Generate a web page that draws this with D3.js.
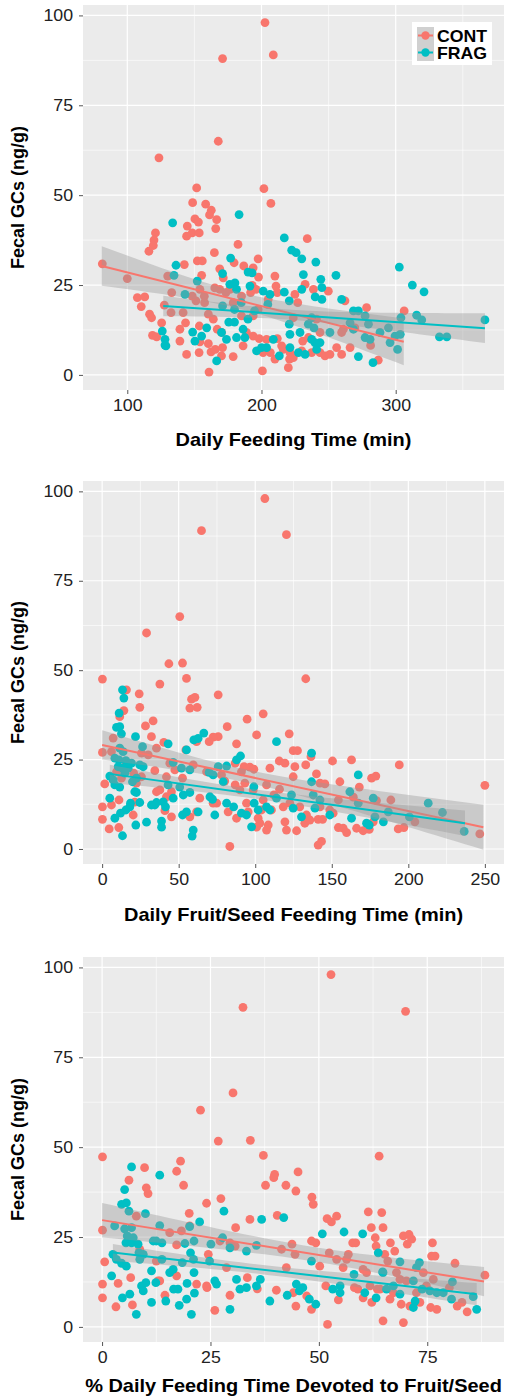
<!DOCTYPE html>
<html>
<head>
<meta charset="utf-8">
<script src="https://cdn.jsdelivr.net/npm/d3@7"></script>
<style>
  body { margin: 0; background: #fff; }
  svg { display: block; }
</style>
</head>
<body>
<svg id="chart" width="508" height="1399"></svg>
<script>
// groups
const groups = ["CONT", "FRAG"];
const groupColors = ["#F8766D", "#00BFC4"];
const yTicks = [0, 25, 50, 75, 100];

// panel 1: daily feeding time (min) vs fecal GCs
const feedCont = [[202.6,98],[208.8,89],[171,88],[167.8,65],[123.6,60.4],[151.7,52],[201.8,51.8],[207,47.7],[148.7,47.9],[158.4,47.5],[162.6,45.8],[166.6,43.2],[150.4,43.4],[153,42.5],[144.7,41.4],[161.3,44.5],[121,39.5],[148.4,39.5],[153.6,39.5],[144.2,38.6],[165.9,40.7],[119.9,37.5],[119.4,36],[116.1,34.4],[234.1,37.9],[182.5,36.3],[81.4,30.9],[100,26.8],[107.5,21.5],[113,21.7],[110.4,19],[116.6,16.9],[118.1,15.9],[118.8,11],[121.9,10.6],[125.6,14.5],[127.6,19.4],[130.1,27.5],[133.1,22.9],[132.6,17.3],[142.5,30.7],[139.2,12.7],[139.2,9.4],[144.2,5.7],[141.6,17.3],[143.4,14.5],[152.2,31.7],[155.9,31.7],[155.4,27.7],[154.1,23.8],[157.4,21.9],[148.4,21.9],[151.2,20.6],[157.6,20.1],[160.4,16.9],[164.1,15.5],[153.7,13.6],[154.1,9.2],[160.4,8.7],[162.4,6.4],[153.5,6.2],[160.9,0.8],[165.6,7.1],[164.9,34],[168.9,29.5],[171.5,27],[165.2,24.2],[168.9,23.8],[173.5,22.9],[167,12.7],[170.2,11.8],[171,7.6],[170.2,5.3],[178.9,5.1],[176.5,23.8],[179.6,31.2],[178.9,20.1],[185.1,21.9],[185.1,16.4],[186.3,8.1],[188.8,11.8],[186.8,30.3],[193.8,29.8],[197.5,32.3],[197.8,27.2],[193.1,24.9],[191.9,22.9],[195.9,23.8],[197.5,18.2],[193.8,16.4],[193.8,10.8],[198.3,10.1],[201.2,6.2],[200.7,1.1],[206.6,6.2],[203.8,9.9],[205,21],[210,27.5],[210.8,24.7],[211.8,22.9],[210,4.4],[216.2,7.1],[215,8.1],[211.8,10.1],[220,2],[220.9,4.4],[221.2,6.2],[223.7,4.8],[224.9,22.4],[223.7,15.9],[227,20.1],[232.5,25.2],[230.7,9.4],[230,6.7],[237.4,6.2],[238.7,23.8],[235,10.4],[241,15.5],[243.6,11.8],[243.6,6.2],[247.3,5.3],[249.8,23.3],[251,5.7],[256,7.6],[259.7,5.7],[262.2,20.6],[261,12.7],[266,7.6],[269.6,13.1],[278.3,18.7],[281.3,8.2],[287,4.1],[306.3,17.8],[259.7,11.8]];
const feedFrag = [[133.8,42.3],[183.3,44.6],[217,38.1],[222.5,34.7],[225.8,34],[230,32.3],[240.5,31.4],[177,32.5],[302.7,30],[312.4,25],[321.1,23.1],[255.5,27.7],[231.2,27.9],[244.2,26.6],[136.3,30.5],[134.8,27.7],[152.1,26.1],[171,28.2],[190,28.6],[193,28.4],[180.2,25.6],[176.4,25.2],[181.4,23.8],[191.4,24.7],[201.3,23.3],[206.3,22.4],[217,23],[230,23.8],[245,24.3],[240,21.7],[245,21],[220.7,20.6],[143,22.4],[171,19.2],[184.9,20.1],[179.9,18.2],[189.9,15.5],[179.9,14.7],[175.6,14.7],[194.8,17.8],[204.7,19.6],[220.7,14.1],[221.2,11.3],[228.7,11.8],[234.9,14.1],[237.4,15.9],[239.1,13.1],[239.8,9],[243.6,9],[241.1,7.1],[251,11.8],[259.7,21],[268.5,17.8],[272.2,17.8],[266,14.5],[268.5,12.7],[277.2,16.4],[279.7,14.1],[277.2,10.4],[280.9,9.9],[288.3,11.8],[294.6,13.1],[295.8,9],[299.5,10.8],[303.4,11.3],[301.4,7.1],[303.9,15.9],[283.1,3.4],[272.2,5.1],[315.6,16.6],[319.4,15.3],[332.6,10.6],[338.1,10.6],[366.5,15.3],[126.1,12.2],[128.1,9.9],[128.1,8.3],[148.7,11.9],[150.4,9.4],[155.4,10.8],[159.2,13.1],[166.6,3.9],[170.2,11.8],[173.9,9.9],[186.3,12.7],[187.6,10.4],[181.4,10.4],[196.3,6.7],[200,7.6],[203.8,7.6],[208.8,9.9],[213.3,5.3],[221.2,7.6],[227.5,6.2],[232.5,5.7],[237.4,9.9],[128.8,8.1]];

// panel 2: daily fruit/seed feeding time (min)
const fruitCont = [[106.3,98],[64.9,89],[120.4,87.9],[50.7,65],[29,60.4],[43.6,51.8],[52.5,52],[0.2,47.5],[133,47.6],[55.1,47.7],[37.7,46.1],[75.8,43.1],[24.2,43.4],[15.9,44.5],[58.4,41.9],[60.6,42.4],[62.1,39.6],[57.3,39.4],[24.6,39.6],[14.2,38.7],[11.5,37],[33.3,35.8],[28.3,34.4],[94.7,36.3],[105.2,37.8],[81.7,34.2],[100.9,31.9],[122.2,32.2],[75.8,31.4],[72.5,31.3],[69.9,30],[32.2,31.4],[7.2,31],[61.7,30],[54.7,27.7],[35.5,28.2],[40.3,29.8],[87.8,29.4],[124.8,27.5],[127.6,27.5],[0.2,27],[6.1,27.2],[25.7,26.8],[30.1,26.3],[44.2,24],[47.5,22.1],[42,20.2],[34.4,21.9],[15.5,23.5],[20.6,21.2],[25.7,20.2],[12.6,19.8],[9.4,21.6],[1.7,18.2],[59.5,23.5],[68.2,21.6],[78,20.7],[80.1,19],[86.9,24],[92.7,23],[96.5,22.9],[99.1,22.3],[91,21.6],[93.2,18.4],[86.9,17.9],[107.4,17.9],[109.6,22.6],[115.7,24.6],[119.4,24],[125.9,23],[124.8,20.2],[133,23.5],[136.4,25.8],[140,21],[142.3,18.4],[145.5,18.2],[150.5,24.6],[155.3,18.8],[162.9,24.9],[168,17.3],[176,19.8],[178.8,20.4],[194.1,23.5],[188.6,13.7],[179.2,13.5],[164.1,14.5],[154.3,13.7],[148.7,10.9],[142.3,11.8],[133.5,9.5],[129.1,11.8],[122.6,12.8],[118.3,11.8],[112.2,15.1],[115.9,16.7],[110.6,10.9],[104.1,10.9],[101.9,8.6],[103,7.2],[108.5,6.7],[107.4,5.3],[100.9,6.1],[95.4,10.4],[94.3,12.8],[87.8,8.6],[82.3,10.4],[83.4,0.7],[119.4,7.6],[120.4,5.3],[127,5.1],[132.4,7.2],[135.7,8.1],[141.1,8.3],[144,8.3],[141.1,1.1],[143.3,2.1],[154.3,6],[157.5,5.8],[159.7,4.6],[166.2,5.8],[170.5,5.1],[174.5,5.5],[177.1,7.6],[193.4,5.6],[197.1,6],[204.3,7.6],[246.7,4.2],[250,17.8],[150.9,10],[0.2,11.8],[0.2,8.3],[4.6,5.6],[11,13.7],[6.1,12.3],[10.9,6],[20.3,9.5],[21.3,13.1],[45.3,9],[41,10.7],[61.7,10.4],[63.8,14.2],[57.3,9],[42,14.6],[35.5,16],[37.7,16.5],[45.3,16],[52.5,19.8],[74.8,12.8],[72.5,12.8],[22.4,18.4],[98.7,16.5],[105.2,13.7],[90,16.5]];
const fruitFrag = [[13.3,44.5],[14.2,42.2],[11.1,38],[11.5,34.2],[9.4,34],[12.6,32.2],[21.8,31.4],[66.4,32.4],[59.9,30.5],[43.1,29.4],[26.4,28.6],[11.5,28.2],[13.7,27.2],[55.1,27.7],[113.9,30],[136.8,26.8],[87.8,24.9],[90.4,26],[8.3,25.4],[11,24.9],[15.5,24.7],[19.2,24],[24.6,23.5],[26.8,23],[10.5,23],[13.3,22.6],[14.8,21.2],[17,22.6],[46.4,24.2],[51.8,22.6],[57.3,22.1],[75.8,23],[69.9,21.4],[72.5,20.7],[79.1,18.8],[81.3,23.2],[136.8,18.8],[167.3,20.7],[5,20.4],[7.2,19.3],[8.3,17.9],[11.5,17.3],[19.8,18.8],[22.4,19.8],[43.1,17.9],[50.7,17.3],[57.3,15.8],[53,15.1],[46.4,14.2],[35.5,13],[39.9,13.2],[41.4,11.8],[32.2,12.3],[34.4,12.3],[22.4,15.8],[24.6,13],[70.4,14.6],[72.1,13.9],[81.3,12.8],[85.9,11.8],[99.1,17.4],[99.3,12.8],[101.9,10.9],[107.4,11.8],[109.6,10.9],[113.9,14.2],[123.7,15.1],[124.8,11.4],[130.2,9],[137.9,15.1],[142.3,13.7],[139,11.4],[148.7,9.5],[161.8,16],[162.9,8.6],[167.3,12.8],[172.7,7.2],[174.5,6.7],[177.1,14.2],[178.2,9],[183.7,7.6],[186.9,10.4],[200.7,9],[213,12.8],[222.3,10.2],[236.5,4.9],[97.6,6.2],[91,10],[94.3,9.5],[59.5,5.3],[58.8,3.6],[52.5,9.5],[55.1,10.4],[62.7,10.4],[73.6,9.5],[8.3,8.6],[12,10],[15.5,10.9],[18.1,11.8],[13.3,3.7],[22,6.7],[29,7.5],[38.8,7.8],[38.8,6.1],[5,14.2],[18.5,12.8],[21.3,16],[62.7,30.9]];

// panel 3: % daily feeding time devoted to fruit/seed
const pctCont = [[52.8,98],[32.5,88.9],[70,87.8],[30.2,65.1],[22.7,60.3],[26.8,51.7],[34.2,51.9],[0.1,47.3],[37.2,47.7],[63.9,47.5],[18.1,46.1],[9.8,44.3],[17.2,43.3],[45.2,43.1],[39.8,42.4],[39.6,41.5],[6.2,40.8],[10.2,38.7],[10.6,37.1],[18.8,39.4],[37.7,39.4],[42.4,39.4],[44.7,37.8],[27.4,35.7],[48.4,36.1],[48.7,34.1],[24.1,34.4],[20.1,31.6],[40.4,31],[7.9,30.8],[34.1,29.9],[51.9,30.1],[54.1,30.8],[52.9,29.2],[61.4,32],[64.5,31.8],[0.1,26.9],[20.2,28.1],[30.8,27.6],[62.1,27.6],[64.8,27.6],[27.2,23.9],[15.6,26.2],[18.3,26.7],[29.5,23.4],[30.7,22.5],[43.8,23],[44.5,20.2],[48.3,23.9],[49.3,23.4],[52.4,20.6],[57.8,23.4],[58.5,23.4],[63,24.8],[63.2,22.5],[66.5,23.4],[67.5,21.1],[69.5,25.3],[70.8,25.7],[70.4,23],[71.4,24.4],[76.2,23.4],[76,19.7],[76.8,19.7],[81.4,17.7],[88.3,14.4],[65.2,20.2],[65.9,18.3],[0.6,18.1],[17.2,22.8],[56.4,18.8],[55.6,16.5],[41.4,21.6],[42.5,16.5],[33.5,13.7],[35.8,10.6],[40.2,10.2],[28.7,16.5],[24.5,20.2],[24.2,10.9],[29.5,8.8],[26,4.6],[44.1,9.5],[44.7,5.8],[47.2,8.6],[48.3,4.9],[51.6,11.4],[52,0.7],[54.5,7.5],[58.2,10.9],[59,10.5],[60.2,8.1],[62.2,6.8],[61.8,11.4],[64.1,10.5],[64.8,1.7],[66.4,7.7],[67.2,9.5],[67.9,15.1],[68.7,13.2],[69,6.3],[69.5,1.2],[70.2,12.8],[71,5.8],[73.3,6.8],[74.1,15.1],[74.8,11.4],[75.8,5.4],[76.4,13.2],[77.2,4.9],[81.9,5.8],[83,6.8],[84.2,4.2],[80.1,10.9],[72.5,9.5],[0.1,11.9],[0.1,8.1],[3.7,12.1],[3.2,5.6],[6.6,13.7],[7,6.1],[12.5,18.3],[12.9,12.8],[14.5,8.8],[17.2,14.2],[21.8,11.9],[24.1,11.4],[8.7,21.6],[13.3,12.8],[56.8,20.2],[60.2,16],[61,15.1],[63.5,10.5],[54.1,18.8],[50.2,16.9]];
const pctFrag = [[6.8,44.5],[13.3,42.2],[5.2,38.2],[4.5,34.1],[5.6,34.5],[6.2,32.2],[10,31.5],[28.1,32.2],[36.8,29.9],[41.9,30.4],[22.5,29.2],[2.9,28.1],[5.2,27.3],[6.8,27.6],[13.3,28.2],[20.2,27.9],[50.8,25.9],[55.8,26.4],[60.1,25.9],[5.8,25.3],[7.2,24.8],[5.5,23.4],[6.8,23.4],[8.3,23],[11.8,23.9],[12.5,23.9],[13.8,23.4],[19.1,23.2],[21.2,23.9],[25.1,23],[27.8,24.8],[29.5,22],[33.3,21.1],[35.6,22.7],[63.7,20.6],[2.5,20.2],[3.3,18.8],[4.5,17.7],[5.6,16.9],[8.5,20.6],[9.5,20.2],[8.7,18.8],[13.8,18.8],[18.5,17.9],[20.4,20.6],[21.1,18.8],[24.8,18.3],[48.3,18.3],[73.2,17.9],[68.7,18.1],[72.5,16.5],[64.7,15.3],[2.2,14.2],[11.4,15.6],[14.7,7.2],[15.6,15.1],[16.4,16],[17.5,10.5],[16.5,10.5],[19.6,12.1],[21.2,15.1],[21.3,9.4],[17.8,6],[19.5,7.7],[20.6,3.5],[11.4,6.8],[6.4,9.1],[4.7,8.1],[7.9,3.5],[9.1,11.4],[9.5,10],[10.1,12.3],[12.4,12.3],[26,12.8],[26.4,11.9],[31,13.2],[31.8,10.5],[29.5,4.9],[33.3,10.9],[35.6,11.4],[36.5,13.2],[38.7,7.2],[42.7,8.8],[44.8,11.9],[45.5,10],[46.3,10.9],[47.8,7.7],[49.3,6.3],[53.2,10.5],[54.9,11.4],[54.9,9.5],[58.1,14.6],[60.6,9.5],[63.2,8.1],[64.8,15.1],[65.6,10.5],[67.2,11.4],[68.7,9.1],[71.8,5.4],[72.2,7.2],[73.8,10.5],[75.6,10],[77.2,9.5],[78.7,9.5],[80.6,7.7],[80.8,12.5],[85.6,8.4],[86.4,4.9],[71.8,12.8]];

// linear fits: [xStart, xEnd], [yStart, yEnd], CI half-width [start, narrowest, end]
const feedFitX = [[81, 306], [126.8, 366.5]];
const feedFitY = [[30.3, 9.2], [19.2, 13]];
const feedFitSE = [[5.5, 2.3, 6.5], [2.85, 1.4, 4.15]];
const fruitFitX = [[0, 249], [5, 237]];
const fruitFitY = [[29.1, 6.1], [21, 7.2]];
const fruitFitSE = [[4.1, 1.8, 6.3], [2.55, 1.3, 3.55]];
const pctFitX = [[0, 88.1], [2.5, 86.4]];
const pctFitY = [[29.7, 12.6], [20.7, 9.1]];
const pctFitSE = [[4.8, 2, 4.05], [2.35, 1.3, 3.1]];

const panels = [
  { top: 5, bottom: 390, titleDy: 56, xDomain: [67, 380.7], xTicks: [100, 200, 300], xMinor: [150, 250, 350],
    title: "Daily Feeding Time (min)", series: [feedCont, feedFrag],
    fitX: feedFitX, fitY: feedFitY, fitSE: feedFitSE, legend: true },
  { top: 481, bottom: 864, titleDy: 57, xDomain: [-12.5, 262.5], xTicks: [0, 50, 100, 150, 200, 250], xMinor: [25, 75, 125, 175, 225],
    title: "Daily Fruit/Seed Feeding Time (min)", series: [fruitCont, fruitFrag],
    fitX: fruitFitX, fitY: fruitFitY, fitSE: fruitFitSE },
  { top: 957, bottom: 1342, titleDy: 50, xDomain: [-4.4, 92.7], xTicks: [0, 25, 50, 75], xMinor: [12.5, 37.5, 62.5, 87.5],
    title: "% Daily Feeding Time Devoted to Fruit/Seed", series: [pctCont, pctFrag],
    fitX: pctFitX, fitY: pctFitY, fitSE: pctFitSE }
];

const left = 83, right = 504;
const stretch = 1.11; // source figure is slightly wide
const font = '"Liberation Sans", Arial, sans-serif';
const svg = d3.select("#chart");

panels.forEach((p, pi) => {
  const x = d3.scaleLinear().domain(p.xDomain).range([left, right]);
  const y = d3.scaleLinear().domain([-4.2, 102.9]).range([p.bottom, p.top]);
  const g = svg.append("g");
  const clipId = "clip" + pi;
  g.append("clipPath").attr("id", clipId).append("rect")
    .attr("x", left).attr("y", p.top).attr("width", right - left).attr("height", p.bottom - p.top);

  g.append("rect").attr("x", left).attr("y", p.top)
    .attr("width", right - left).attr("height", p.bottom - p.top).attr("fill", "#EBEBEB");

  // grid
  const grid = g.append("g").attr("stroke", "#fff");
  [12.5, 37.5, 62.5, 87.5].forEach(v => grid.append("line")
    .attr("x1", left).attr("x2", right).attr("y1", y(v)).attr("y2", y(v)).attr("stroke-width", 0.6));
  p.xMinor.forEach(v => grid.append("line")
    .attr("x1", x(v)).attr("x2", x(v)).attr("y1", p.top).attr("y2", p.bottom).attr("stroke-width", 0.6));
  yTicks.forEach(v => grid.append("line")
    .attr("x1", left).attr("x2", right).attr("y1", y(v)).attr("y2", y(v)).attr("stroke-width", 1.2));
  p.xTicks.forEach(v => grid.append("line")
    .attr("x1", x(v)).attr("x2", x(v)).attr("y1", p.top).attr("y2", p.bottom).attr("stroke-width", 1.2));

  // axes
  const yAxis = g.append("g").attr("transform", `translate(${left},0)`)
    .call(d3.axisLeft(y).tickValues(yTicks).tickSize(4).tickPadding(5));
  const xAxis = g.append("g").attr("transform", `translate(0,${p.bottom})`)
    .call(d3.axisBottom(x).tickValues(p.xTicks).tickSize(4).tickPadding(6));
  [yAxis, xAxis].forEach(a => {
    a.select(".domain").remove();
    a.selectAll("line").attr("stroke", "#555");
    a.selectAll("text").attr("fill", "#222").style("font-family", font).style("font-size", "16px")
      .attr("transform", `scale(${stretch},1)`);
  });

  // points
  const pts = g.append("g").attr("clip-path", `url(#${clipId})`);
  p.series.forEach((s, si) => {
    pts.selectAll(null).data(s).join("circle")
      .attr("cx", d => x(d[0])).attr("cy", d => y(d[1])).attr("r", 4.4)
      .attr("fill", groupColors[si]);
  });

  // smooth fits with confidence band
  p.series.forEach((s, si) => {
    const [x0, x1] = p.fitX[si], [y0, y1] = p.fitY[si], [hs, hm, he] = p.fitSE[si];
    const k = (Math.sqrt(hs * hs - hm * hm) + Math.sqrt(he * he - hm * hm)) / (x1 - x0);
    const xc = x0 + Math.sqrt(hs * hs - hm * hm) / k;
    const xs = d3.range(41).map(i => x0 + (x1 - x0) * i / 40);
    const band = xs.map(v => {
      const m = y0 + (y1 - y0) * (v - x0) / (x1 - x0);
      const h = Math.sqrt(hm * hm + k * k * (v - xc) * (v - xc));
      return [v, m - h, m + h];
    });
    g.append("path").datum(band)
      .attr("d", d3.area().x(d => x(d[0])).y0(d => y(d[1])).y1(d => y(d[2])))
      .attr("fill", "#999").attr("fill-opacity", 0.4).attr("clip-path", `url(#${clipId})`);
    g.append("line")
      .attr("x1", x(x0)).attr("y1", y(y0)).attr("x2", x(x1)).attr("y2", y(y1))
      .attr("stroke", groupColors[si]).attr("stroke-width", 2);
  });

  // axis titles
  g.append("text")
    .attr("transform", `translate(24,${(p.top + p.bottom) / 2}) rotate(-90)`)
    .attr("text-anchor", "middle")
    .style("font-family", font).style("font-size", "18px").style("font-weight", "bold")
    .text("Fecal GCs (ng/g)");
  g.append("text")
    .attr("transform", `translate(${(left + right) / 2},${p.bottom + p.titleDy}) scale(${stretch},1)`)
    .attr("text-anchor", "middle")
    .style("font-family", font).style("font-size", "18px").style("font-weight", "bold")
    .text(p.title);

  if (p.legend) {
    const lg = g.append("g").attr("transform", "translate(412,22)");
    lg.append("rect").attr("width", 80).attr("height", 43).attr("fill", "#fff");
    groups.forEach((name, i) => {
      const ky = 5 + i * 17;
      lg.append("rect").attr("x", 5).attr("y", ky).attr("width", 17).attr("height", 17).attr("fill", "#D0D0D0");
      lg.append("line").attr("x1", 6).attr("x2", 21).attr("y1", ky + 8.5).attr("y2", ky + 8.5)
        .attr("stroke", groupColors[i]).attr("stroke-width", 2);
      lg.append("circle").attr("cx", 13.5).attr("cy", ky + 8.5).attr("r", 4.2).attr("fill", groupColors[i]);
      lg.append("text").attr("transform", `translate(25,${ky + 14.5}) scale(1.04,1)`)
        .style("font-family", font).style("font-size", "17px").style("font-weight", "bold")
        .text(name);
    });
  }
});
</script>
</body>
</html>
